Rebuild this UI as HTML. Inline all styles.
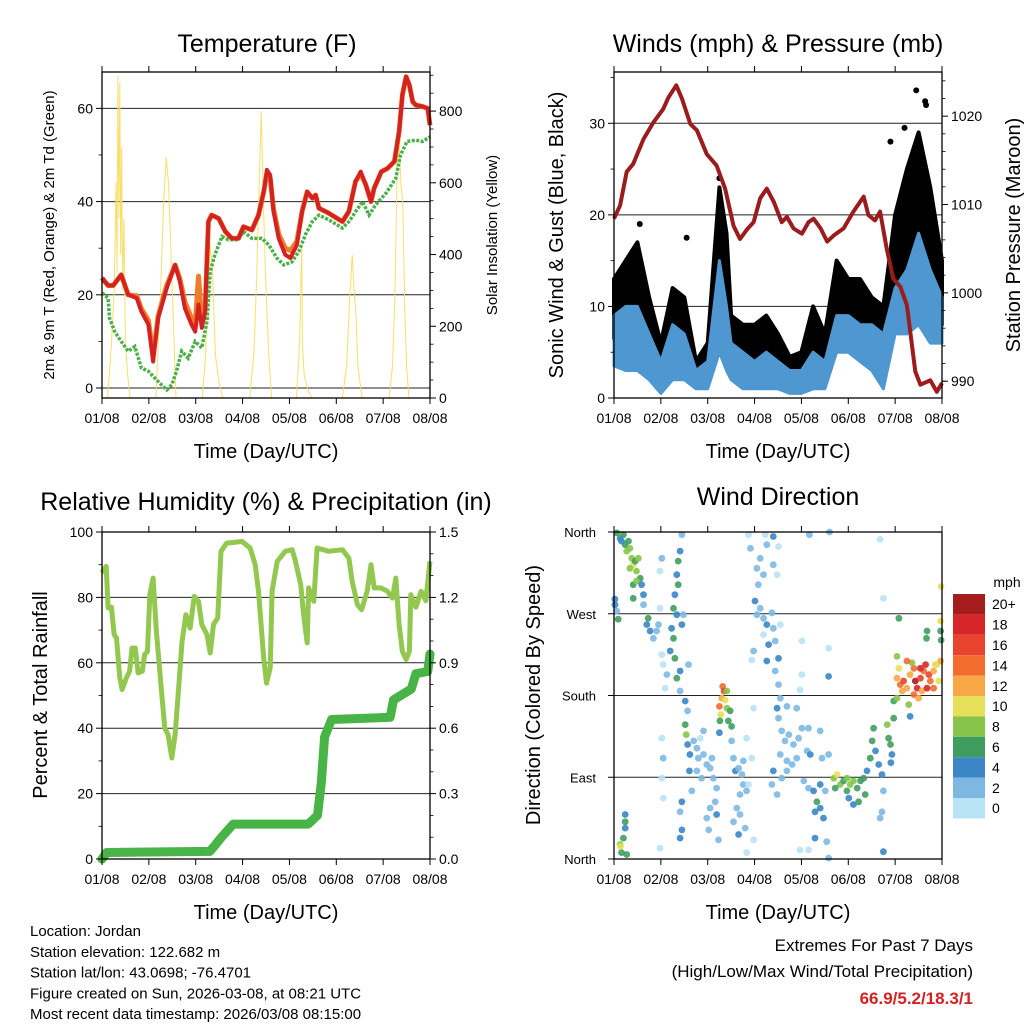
<!DOCTYPE html>
<html><head><meta charset="utf-8"><style>
html,body{margin:0;padding:0;background:#fff;}
svg{display:block;font-family:"Liberation Sans",sans-serif;}
</style></head><body>
<svg id="root" width="1024" height="1024" viewBox="0 0 1024 1024" xmlns="http://www.w3.org/2000/svg"></svg>
<script>
// ---------- Temperature panel data (day offset, value) ----------
const redDay=[0,.13,.24,.41,.56,.74,.84,.99,1.09,1.2,1.38,1.56,1.66,1.77,1.91,1.99,2.06,2.13,2.2,2.27,2.34,2.49,2.63,2.77,2.91,3.02,3.2,3.34,3.45,3.52,3.59,3.66,3.77,3.91,4.02,4.16,4.27,4.38,4.49,4.56,4.63,4.84,5.13,5.27,5.41,5.52,5.63,5.74,5.81,5.96,6.09,6.24,6.34,6.41,6.49,6.56,6.63,6.7,6.84,6.95,7.0];
const redT=[23.6,22,22,24.3,20,19.3,16.4,13.6,5.7,15,21.4,26.4,22.9,17.1,13.6,12.1,17.9,12.9,16.4,35.7,37.1,36.4,33.6,32.1,32.1,34.6,33.9,37.1,42.1,46.8,45.7,37.9,32.1,28.6,27.9,30.7,37.9,42.1,40.7,41.4,38.6,37.5,35.7,37.9,44.3,46.4,43.6,40,42.9,46.4,47.1,48.6,55,62.9,66.8,65,61.4,60.7,60.4,60,56.4];
const orangeT=[23.6,22,22,24.3,20,19.8,17,14.5,7,15.5,22,26.4,23.5,18.5,15,13.5,24,14,17,35.7,37.1,36.4,33.6,32.1,32.1,34.6,33.9,37.1,42.1,46,45,38.5,33,30,29.5,31.5,37.9,42.1,40.7,41.4,38.6,37.5,35.7,37.9,44.3,46,43.6,40,42.9,46.4,47.1,48.6,55,62.9,66.8,65,61.4,60.7,60.4,60,56.4];
const dewDay=[0,.13,.16,.27,.41,.56,.7,.84,.99,1.13,1.27,1.38,1.49,1.59,1.7,1.84,1.99,2.13,2.24,2.31,2.41,2.56,2.7,2.91,3.02,3.2,3.41,3.56,3.73,3.88,4.06,4.2,4.34,4.49,4.63,4.84,5.13,5.27,5.56,5.7,5.84,6.06,6.27,6.37,6.51,6.7,6.84,7.0];
const dewT=[20.4,19.3,15,12.1,10,7.9,8.9,4.3,3.6,2.1,0.7,-0.4,0.7,3.6,7.9,6.4,10,8.6,14.3,25,28.6,32.5,31.8,31.8,33.6,32.1,32.1,30.7,27.9,26.4,27.1,29.3,32.9,35.7,37.1,36.1,34.3,35.7,40,37.1,39.3,41.8,45,50,52.9,53.2,52.9,53.9];
const solarDay=[0,.12,.2,.26,.3,.32,.34,.36,.38,.4,.42,.44,.47,.5,.55,.6,1.15,1.25,1.32,1.37,1.42,1.5,1.58,2.14,2.2,2.26,2.31,2.36,2.42,2.5,2.58,3.15,3.24,3.3,3.36,3.4,3.44,3.5,3.56,3.62,4.15,4.22,4.26,4.28,4.32,4.4,4.48,5.13,5.22,5.28,5.34,5.38,5.42,5.46,5.55,6.13,6.2,6.25,6.3,6.34,6.38,6.42,6.46,6.5,6.55,7.0];
const solarW=[0,0,150,300,600,350,900,500,880,400,700,300,500,150,60,0,0,300,560,670,600,300,0,0,100,280,430,350,120,40,0,0,120,330,620,800,560,300,120,0,0,160,420,140,60,20,0,0,90,260,400,300,230,90,0,0,90,280,650,710,600,540,250,90,0,0];
const tempTicks=[0,20,40,60];
const solarTicks=[0,200,400,600,800];
const dayLabels=["01/08","02/08","03/08","04/08","05/08","06/08","07/08","08/08"];

// ---------- Winds panel data ----------
const presDay=[0,.13,.27,.41,.63,.84,1.05,1.16,1.33,1.45,1.63,1.77,1.98,2.19,2.37,2.55,2.69,2.84,2.98,3.12,3.26,3.41,3.58,3.69,3.83,4.01,4.15,4.26,4.41,4.55,4.69,4.9,5.11,5.33,5.43,5.57,5.68,5.82,5.96,6.11,6.25,6.43,6.54,6.75,6.89,7.0];
const presMb=[1008.4,1009.9,1013.7,1014.6,1017.4,1019.3,1020.8,1022.1,1023.5,1022,1019.1,1018.4,1015.7,1014.4,1011.8,1007.6,1006.1,1007.2,1008,1010.7,1011.8,1010.3,1008,1008.6,1007.3,1006.7,1008,1008.4,1007.3,1005.8,1006.5,1007.3,1009.2,1010.9,1008.8,1008.2,1009.2,1005,1001.6,1000.7,998.6,991.1,989.6,990.1,988.8,989.8];
const windDay=[0,.25,.5,.75,1,1.25,1.5,1.75,2,2.25,2.4,2.5,2.75,3,3.25,3.5,3.75,4,4.25,4.5,4.75,5,5.25,5.5,5.75,6,6.25,6.5,6.75,7];
const gustLo=[6.5,7,7,5,2,5,4,2,3,8,6,4,3,2,3,2,1.5,2,3,3,8,7,6,5,3,10,11,13,10,8];
const gustHi=[13,15,17,11,6,12,11,4,6,23,18,9,8,8,9,7,4.5,5,10,7,15,13,13,11,10,20,25,29,23,15];
const sonicLo=[3.5,3,3,2,0.5,2,2,1,1,5,3,2,1,1,1,1,0.5,0.5,1,1,5,5,4,3,1,7,7,8,6,6];
const sonicHi=[9,10,10,7,4,8,7,3,4,15,10,6,5,4,5,4,3,3,5,4,9,9,8,8,7,12,14,18,14,11];
const gustOutDay=[6.45,6.64,6.66,1.55,0.55,2.25,6.2,5.9];
const gustOutMph=[33.6,32.4,32,17.5,19,24,29.5,28];
const windTicks=[0,10,20,30];
const presTicks=[990,1000,1010,1020];

// ---------- RH / precip data ----------
const rhDay=[0,.09,.13,.2,.26,.31,.38,.43,.52,.59,.64,.71,.77,.86,.91,.97,1.02,1.09,1.16,1.27,1.34,1.41,1.49,1.56,1.63,1.71,1.79,1.88,1.97,2.06,2.13,2.24,2.31,2.38,2.47,2.54,2.66,2.99,3.16,3.27,3.34,3.45,3.51,3.59,3.63,3.74,3.91,4.06,4.13,4.24,4.31,4.38,4.41,4.52,4.59,4.84,5.13,5.27,5.34,5.45,5.54,5.66,5.74,5.81,5.95,6.09,6.2,6.27,6.34,6.41,6.49,6.56,6.59,6.7,6.81,6.91,7.0];
const rhPct=[87.5,89.5,76.8,77,68.6,67.6,55.4,51.8,55.4,57.4,64.5,64.5,56.9,57.4,62.5,63.5,80.8,85.9,69.6,51.3,40,38,30.9,38,51.3,66.6,74.7,70.6,80.3,78.8,71.7,68.6,63,71.7,73.7,94.1,96.6,97.1,95.1,90,81.9,61.5,53.8,58.4,81.9,91,94.1,94.6,91,83.9,73.7,66.1,82.9,78.8,95.1,94.1,94.6,92,84.9,77.8,76.2,81.9,90,82.9,82.9,81.9,79.8,85.9,71.7,63.5,61,63.5,80.8,77,81.9,79,91];
const precipDay=[0,.1,2.3,2.4,2.55,2.8,4.4,4.6,4.68,4.75,4.9,6.15,6.22,6.6,6.7,6.95,7.0];
const precipIn=[0,.03,.035,.06,.1,.16,.16,.2,.35,.56,.64,.65,.73,.78,.85,.86,.94];
const rhTicks=[0,20,40,60,80,100];
const precipTicks=["0.0","0.3","0.6","0.9","1.2","1.5"];

// ---------- Wind direction data ----------
const wdDay=[.06,.13,.2,.24,.27,.34,.38,.41,.45,.48,.52,.56,.41,.48,.59,.63,.41,.16,.31,.34,
.02,.06,.09,.02,.13,.16,.2,.24,.24,.27,.14,.24,
.63,.7,.73,.77,.84,.91,.95,.98,1.02,.98,1.02,1.05,1.13,1.09,1.02,1.05,1.02,1.05,.98,
1.45,1.41,1.37,1.34,1.37,1.3,1.27,1.34,1.23,1.27,1.2,1.3,1.34,1.41,1.59,1.48,1.45,
1.41,1.52,1.57,1.52,1.54,1.57,1.62,1.61,1.66,1.45,1.41,1.45,1.41,
1.7,1.77,1.84,1.91,1.8,1.91,1.98,2.05,2.12,2.19,2.16,2.05,1.98,2.02,2.19,2.23,2.09,1.87,1.77,
2.32,2.35,2.3,2.37,2.25,2.41,2.28,2.48,2.44,2.26,2.25,2.51,2.41,
2.51,2.55,2.59,2.66,2.73,2.76,2.69,2.83,2.62,2.69,2.55,2.66,2.8,2.87,2.94,2.98,2.83,2.76,2.98,2.83,
2.87,2.91,3.23,3.4,3.26,3.12,3.05,3.19,3.08,3.01,3.12,3.05,3.19,3.26,3.4,3.37,3.44,3.19,3.3,2.98,3.26,3.51,3.44,3.51,3.55,3.55,3.4,3.48,3.51,2.94,
3.48,3.51,3.58,3.65,3.73,3.83,3.94,4.01,4.15,4.12,3.9,3.8,3.69,3.55,3.4,3.37,3.48,3.58,3.9,3.69,4.19,3.69,
4.05,4.15,4.26,4.33,4.29,4.4,4.44,4.4,4.51,4.47,4.29,4.54,4.58,3.97,4.15,4.4,4.58,4.17,4.6,
4.69,4.76,4.83,4.9,4.97,5.04,5.11,5.19,5.26,5.33,5.01,5.11,4.97,4.72,5.22,5.36,
5.4,5.47,5.51,5.54,5.58,5.65,5.72,5.75,5.72,5.68,5.75,5.83,5.86,5.9,5.93,5.91,5.97,5.97,5.68,5.75,4.58,4.58,4.01,4.01,3.97,
6.04,6.08,6.04,6.11,6.18,6.25,6.32,6.4,6.43,6.47,6.54,6.61,6.65,6.72,6.75,6.82,6.89,6.97,6.93,6.57,6.4,6.5,6.29,6.32,6.36,6.15,6.25,6.82,6.68,6.54,6.08,6.68,6.67,6.97,6.98,6.97,6.98,6.86,6.04];
const wdDir=[359,353,357,346,339,342,331,324,328,317,331,309,302,306,302,291,287,350,350,320,
280,273,264,286,16,7,23,49,41,5,14,34,
280,258,265,251,243,251,258,276,331,317,225,214,203,188,133,111,89,67,12,
357,339,328,313,302,291,276,269,254,243,229,221,199,207,214,269,258,
185,174,163,148,137,126,115,97,75,63,52,32,23,
130,122,133,141,111,115,104,100,89,78,63,56,45,32,49,21,111,89,97,
190,185,177,175,168,166,159,163,152,152,139,146,185,
130,111,97,100,93,82,71,75,56,49,41,27,34,82,111,166,133,108,21,7,
357,342,357,355,346,331,320,313,302,284,276,269,265,258,254,271,240,247,236,229,218,221,207,192,177,258,324,313,344,219,
166,155,141,130,137,126,133,144,144,119,111,104,108,115,97,82,71,89,166,168,115,97,
86,78,75,63,52,56,111,82,75,45,23,19,1,10,10,141,115,357,360,
89,93,82,86,89,82,86,78,86,89,67,60,75,78,63,71,
97,111,130,144,119,104,93,75,52,45,8,148,133,126,115,106,155,174,352,287,232,201,240,203,186,
223,210,199,192,196,188,203,210,196,188,199,207,214,203,196,207,214,218,196,185,181,177,170,157,216,185,218,188,188,210,265,251,243,251,241,262,300,214,177];
const wdSpd=[6,5,6,7,8,9,8,10,7,8,9,6,7,8,4,4,7,4,7,8,
4,3,6,5,8,6,7,4,6,6,10,5,
3,4,6,4,3,2,2,1,2,1,1,1,2,1,1,2,1,1,1,
3,4,6,5,6,4,7,5,4,6,4,6,6,4,3,3,5,
3,4,3,6,8,4,4,4,3,4,2,4,4,
2,2,1,2,2,2,2,3,2,3,2,2,2,2,4,3,2,2,3,
14,16,12,10,14,8,10,6,7,7,4,6,8,
2,2,4,3,2,2,3,2,2,2,2,4,2,1,1,1,1,2,1,1,
1,2,1,4,2,3,2,2,2,4,3,3,3,4,2,3,2,1,4,3,4,4,3,3,3,1,2,1,1,1,
4,3,2,2,2,2,2,2,2,2,2,2,2,2,4,3,3,2,3,2,4,2,
2,3,5,6,5,4,3,4,3,4,4,3,2,1,1,3,3,2,2,
8,10,8,7,8,8,8,6,7,6,5,4,6,6,6,7,
4,6,6,7,5,4,4,3,3,3,4,8,7,7,4,4,6,7,1,1,1,4,1,1,1,
8,10,12,14,16,12,12,14,20,18,16,14,18,16,14,12,10,12,10,12,14,12,8,4,8,12,14,14,18,18,6,6,7,6,6,10,10,10,8];
const dirTicks=["North","East","South","West","North"];
const speedBins=["0","2","4","6","8","10","12","14","16","18","20+"];
const speedColors=["#b9e2f6","#7db8e3","#3b86c6","#3f9e5f","#86c54a","#e6df59","#f8a746","#f26b2f","#e8432e","#d7262a","#a51c1c"];

// ---------- helpers ----------
const NS="http://www.w3.org/2000/svg";
const root=document.getElementById('root');
function mk(tag,attrs,parent,name){
  const n=document.createElementNS(NS,tag);
  for(const k in attrs) n.setAttribute(k,attrs[k]);
  
  
  (parent||root).appendChild(n);
  return n;
}
function txt(x,y,s,size,anchor,parent,name,extra){
  const a={x:x,y:y,'font-size':size,'text-anchor':anchor||'middle',fill:'#000'};
  if(extra) for(const k in extra) a[k]=extra[k];
  const t=mk('text',a,parent,name);
  t.textContent=s;
  return t;
}
function lin(v,a,b,p,q){return p+(v-a)/(b-a)*(q-p);}
function poly(xs,ys,fx,fy){return xs.map((d,i)=>fx(d).toFixed(1)+','+fy(ys[i]).toFixed(1)).join(' ');}

function frame(g,X0,X1,Y0,Y1,name){
  mk('rect',{x:X0,y:Y0,width:X1-X0,height:Y1-Y0,fill:'none',stroke:'#000','stroke-width':1.3},g,name);
}
function xAxis(g,X0,X1,Y0,Y1,fx){
  for(let i=0;i<dayLabels.length;i++){
    const x=fx(i);
    mk('line',{x1:x,y1:Y1,x2:x,y2:Y1+6,stroke:'#000','stroke-width':1},g,'x-tick');
    mk('line',{x1:x,y1:Y0,x2:x,y2:Y0-6,stroke:'#000','stroke-width':1},g,'x-tick-top');
    txt(x,Y1+25,dayLabels[i],14,'middle',g,'x-tick-label');
  }
  txt((X0+X1)/2,Y1+60,'Time (Day/UTC)',20,'middle',g,'x-axis-title');
}
function yTicks(g,side,X,vals,fy,labels,minors,size){
  const dir=side==='left'?-1:1;
  vals.forEach((v,i)=>{
    const y=fy(v);
    mk('line',{x1:X,y1:y,x2:X+dir*6,y2:y,stroke:'#000','stroke-width':1},g,side+'-y-tick');
    txt(X+dir*9,y+5,labels[i],size||14,side==='left'?'end':'start',g,side+'-y-tick-label');
  });
  minors.forEach(v=>{
    const y=fy(v);
    mk('line',{x1:X,y1:y,x2:X+dir*3.5,y2:y,stroke:'#000','stroke-width':0.8},g,side+'-y-minor-tick');
  });
}
function grid(g,X0,X1,vals,fy){
  vals.forEach(v=>{
    const y=fy(v);
    mk('line',{x1:X0,y1:y,x2:X1,y2:y,stroke:'#222','stroke-width':1},g,'gridline');
  });
}
function vtitle(x,y,s,size,g,name){
  txt(x,y,s,size,'middle',g,name,{transform:'rotate(-90 '+x+' '+y+')'});
}

// ---------- Panel 1: Temperature ----------
(function(){
  const X0=102,X1=430,Y0=72,Y1=398;
  const g=mk('g',{},root,'temperature-panel');
  const fx=d=>lin(d,0,7,X0,X1);
  const fy=v=>lin(v,-2.14,67.8,Y1,Y0);
  const fs=v=>lin(v,0,909,Y1,Y0);
  txt(267,52,'Temperature (F)',25,'middle',g,'temperature-title');
  grid(g,X0,X1,tempTicks,fy);
  mk('polyline',{points:poly(solarDay,solarW,fx,fs),fill:'none',stroke:'#f7dc5a','stroke-width':1,opacity:0.9},g,'solar-insolation-line');
  mk('polyline',{points:poly(redDay,orangeT,fx,fy),fill:'none',stroke:'#f07c2a','stroke-width':5,'stroke-linejoin':'round'},g,'temp-9m-line');
  mk('polyline',{points:poly(dewDay,dewT,fx,fy),fill:'none',stroke:'#4cb04a','stroke-width':3.5,'stroke-dasharray':'3 1.5'},g,'dewpoint-line');
  mk('polyline',{points:poly(redDay,redT,fx,fy),fill:'none',stroke:'#d42222','stroke-width':4,'stroke-linejoin':'round'},g,'temp-2m-line');
  frame(g,X0,X1,Y0,Y1,'temperature-frame');
  yTicks(g,'left',X0,tempTicks,fy,tempTicks.map(String),[10,30,50],14);
  yTicks(g,'right',X1,solarTicks,fs,solarTicks.map(String),[50,100,150,250,300,350,450,500,550,650,700,750,850,900],14);
  xAxis(g,X0,X1,Y0,Y1,fx);
  vtitle(54,235,'2m & 9m T (Red, Orange) & 2m Td (Green)',15,g,'temperature-y-axis-title');
  vtitle(497,235,'Solar Insolation (Yellow)',15,g,'solar-y-axis-title');
})();

// ---------- Panel 2: Winds & Pressure ----------
(function(){
  const X0=614,X1=942,Y0=72,Y1=398;
  const g=mk('g',{},root,'winds-panel');
  const fx=d=>lin(d,0,7,X0,X1);
  const fy=v=>lin(v,0,35.6,Y1,Y0);
  const fp=v=>lin(v,988.1,1025,Y1,Y0);
  txt(778,52,'Winds (mph) & Pressure (mb)',25,'middle',g,'winds-title');
  grid(g,X0,X1,windTicks,fy);
  const gp=windDay.map((d,i)=>fx(d).toFixed(1)+','+fy(gustHi[i]).toFixed(1));
  const gl=windDay.map((d,i)=>fx(d).toFixed(1)+','+fy(gustLo[i]).toFixed(1)).reverse();
  mk('polygon',{points:gp.concat(gl).join(' '),fill:'#000',stroke:'#000','stroke-width':4,'stroke-linejoin':'round'},g,'gust-band');
  gustOutDay.forEach((d,i)=>{
    mk('circle',{cx:fx(d),cy:fy(gustOutMph[i]),r:3,fill:'#000'},g,'gust-point');
  });
  const bp=windDay.map((d,i)=>fx(d).toFixed(1)+','+fy(sonicHi[i]).toFixed(1));
  const bl=windDay.map((d,i)=>fx(d).toFixed(1)+','+fy(sonicLo[i]).toFixed(1)).reverse();
  mk('polygon',{points:bp.concat(bl).join(' '),fill:'#4f97d0',stroke:'#4f97d0','stroke-width':3,'stroke-linejoin':'round'},g,'sonic-wind-band');
  mk('polyline',{points:poly(presDay,presMb,fx,fp),fill:'none',stroke:'#9b1c1c','stroke-width':4,'stroke-linejoin':'round'},g,'pressure-line');
  frame(g,X0,X1,Y0,Y1,'winds-frame');
  yTicks(g,'left',X0,windTicks,fy,windTicks.map(String),[5,15,25,35],14);
  yTicks(g,'right',X1,presTicks,fp,presTicks.map(String),[990,992,994,996,998,1002,1004,1006,1008,1012,1014,1016,1018,1022,1024],14);
  xAxis(g,X0,X1,Y0,Y1,fx);
  vtitle(563,235,'Sonic Wind & Gust (Blue, Black)',20,g,'wind-y-axis-title');
  vtitle(1020,235,'Station Pressure (Maroon)',20,g,'pressure-y-axis-title');
})();

// ---------- Panel 3: RH & precip ----------
(function(){
  const X0=102,X1=430,Y0=532,Y1=859;
  const g=mk('g',{},root,'humidity-panel');
  const fx=d=>lin(d,0,7,X0,X1);
  const fy=v=>lin(v,0,100,Y1,Y0);
  const fr=v=>lin(v,0,1.5,Y1,Y0);
  txt(266,510,'Relative Humidity (%) & Precipitation (in)',25,'middle',g,'humidity-title');
  grid(g,X0,X1,rhTicks.slice(1,5),fy);
  mk('polyline',{points:poly(rhDay,rhPct,fx,fy),fill:'none',stroke:'#92c84f','stroke-width':5,'stroke-linejoin':'round'},g,'humidity-line');
  mk('polyline',{points:poly(precipDay,precipIn,fx,fr),fill:'none',stroke:'#48b346','stroke-width':9,'stroke-linejoin':'round','stroke-linecap':'round'},g,'precipitation-line');
  frame(g,X0,X1,Y0,Y1,'humidity-frame');
  yTicks(g,'left',X0,rhTicks,fy,rhTicks.map(String),[10,30,50,70,90],14);
  yTicks(g,'right',X1,precipTicks.map(Number),fr,precipTicks,[.1,.2,.4,.5,.7,.8,1.0,1.1,1.3,1.4],14);
  xAxis(g,X0,X1,Y0,Y1,fx);
  vtitle(47,695,'Percent & Total Rainfall',20,g,'humidity-y-axis-title');
})();

// ---------- Panel 4: Wind direction ----------
(function(){
  const X0=614,X1=942,Y0=532,Y1=859;
  const g=mk('g',{},root,'wind-direction-panel');
  const fx=d=>lin(d,0,7,X0,X1);
  const fy=v=>lin(v,0,360,Y1,Y0);
  txt(778,505,'Wind Direction',25,'middle',g,'wind-direction-title');
  grid(g,X0,X1,[90,180,270],fy);
  wdDay.forEach((d,i)=>{
    const b=Math.min(10,Math.floor(wdSpd[i]/2));
    mk('circle',{cx:fx(d).toFixed(1),cy:fy(wdDir[i]).toFixed(1),r:3.4,fill:speedColors[b],opacity:0.9},g,'direction-point');
  });
  frame(g,X0,X1,Y0,Y1,'wind-direction-frame');
  dirTicks.forEach((s,i)=>{
    const y=fy(i*90);
    mk('line',{x1:X0,y1:y,x2:X0-6,y2:y,stroke:'#000'},g,'direction-tick');
    txt(X0-18,y+5,s,13,'end',g,'direction-tick-label');
  });
  xAxis(g,X0,X1,Y0,Y1,fx);
  vtitle(540,695,'Direction (Colored By Speed)',20,g,'direction-y-axis-title');
  const cb=mk('g',{},root,'speed-colorbar');
  txt(1007,587,'mph',14,'middle',cb,'colorbar-unit');
  const top=594,h=20.4;
  for(let k=10;k>=0;k--){
    const y=top+(10-k)*h;
    mk('rect',{x:953,y:y,width:32,height:h,fill:speedColors[k],stroke:'none'},cb,'colorbar-box');
    txt(992,y+h/2+5,speedBins[k],14,'start',cb,'colorbar-label');
  }
})();

// ---------- Footer ----------
(function(){
  const g=mk('g',{},root,'footer');
  const lines=['Location: Jordan','Station elevation: 122.682 m','Station lat/lon: 43.0698; -76.4701','Figure created on Sun, 2026-03-08, at 08:21 UTC','Most recent data timestamp: 2026/03/08 08:15:00'];
  lines.forEach((s,i)=>txt(30,936+i*20.8,s,15,'start',g,'station-info-line'));
  txt(973,951,'Extremes For Past 7 Days',17,'end',g,'extremes-heading');
  txt(973,977,'(High/Low/Max Wind/Total Precipitation)',17,'end',g,'extremes-subheading');
  txt(973,1004,'66.9/5.2/18.3/1',17,'end',g,'extremes-values',{fill:'#d42222','font-weight':'bold'});
})();
</script>
</body></html>
